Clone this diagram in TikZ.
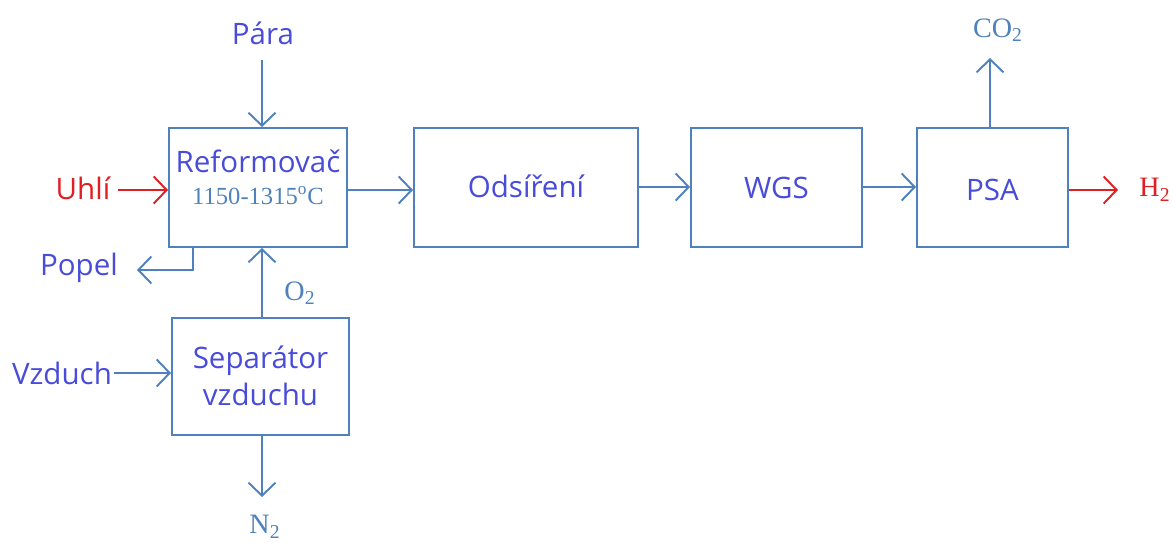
\documentclass[tikz,border=0pt]{standalone}
\usepackage{fontspec}
\setmainfont{Open Sans}
\newfontfamily\serif{Liberation Serif}
\usetikzlibrary{arrows.meta}
\definecolor{lineblue}{RGB}{79,129,189}
\definecolor{txtblue}{RGB}{72,76,216}
\definecolor{hotred}{RGB}{222,32,36}
\tikzset{
  unit/.style={draw=lineblue, line width=1.1pt, inner sep=0pt},
  txt/.style={text=txtblue, font=\fontsize{16.8}{21}\selectfont, inner sep=1pt},
  chem/.style={text=lineblue, font=\serif\fontsize{16}{19}\selectfont, inner sep=1pt},
  redtxt/.style={text=hotred, font=\fontsize{16.8}{21}\selectfont, inner sep=1pt},
  flow/.style={draw=lineblue, line width=1.1pt, -{Straight Barb[length=2.6mm,width=5.4mm,line width=1.1pt]}},
  hot/.style={flow, draw=hotred},
}
\begin{document}
\begin{tikzpicture}
      \useasboundingbox (0,0) rectangle (23.46,10.84);

      % process units
      \node[unit, minimum width=3.56cm, minimum height=2.38cm] (ref) at (5.16,7.09) {};
      \node[txt, align=center] (reftxt) at (5.16,7.3) {Reformovač\\[-3pt]{\serif\color{lineblue}\fontsize{14}{16}\selectfont 1150-1315\textsuperscript{o}C}};
      \node[unit, minimum width=4.48cm, minimum height=2.38cm] (ods) at (10.52,7.09) {};
      \node[txt] (odstxt) at (10.52,7.12) {Odsíření};
      \node[unit, minimum width=3.42cm, minimum height=2.38cm] (wgs) at (15.53,7.09) {};
      \node[txt] (wgstxt) at (15.53,7.08) {WGS};
      \node[unit, minimum width=3.02cm, minimum height=2.38cm] (psa) at (19.85,7.09) {};
      \node[txt] (psatxt) at (19.85,7.04) {PSA};
      \node[unit, minimum width=3.54cm, minimum height=2.34cm] (sep) at (5.21,3.31) {};
      \node[txt, align=center] (septxt) at (5.21,3.33) {Separátor\\vzduchu};

      % streams
      \node[txt] (para) at (5.26,10.18) {Pára};
      \node[redtxt] (uhli) at (1.66,7.08) {Uhlí};
      \node[txt] (popel) at (1.58,5.48) {Popel};
      \node[txt] (vzduch) at (1.24,3.38) {Vzduch};
      \node[chem] (o2) at (6.0,4.98) {O\textsubscript{2}};
      \node[chem] (n2) at (5.3,0.3) {N\textsubscript{2}};
      \node[chem] (co2) at (19.96,10.24) {CO\textsubscript{2}};
      \node[chem, text=hotred] (h2) at (23.1,7.04) {H\textsubscript{2}};
      \coordinate (coal) at (2.36,7.04);
      \coordinate (ash) at (3.86,5.44);
      \coordinate (ashend) at (2.74,5.44);
      \coordinate (n2end) at (5.24,0.9);
      \coordinate (co2end) at (19.8,9.68);
      \coordinate (h2end) at (22.36,7.04);

      \draw[flow] (5.24,9.64) -- (5.24,9.64 |- ref.north);
      \draw[hot] (coal) -- (ref.west |- coal);
      \draw[flow] (ash |- ref.south) -- (ash) -- (ashend);
      \draw[flow] (ref.east |- 0,7.04) -- (ods.west |- 0,7.04);
      \draw[flow] (ods.east |- 0,7.1) -- (wgs.west |- 0,7.1);
      \draw[flow] (wgs.east |- 0,7.1) -- (psa.west |- 0,7.1);
      \draw[hot] (psa.east |- h2end) -- (h2end);
      \draw[flow] (co2end |- psa.north) -- (co2end);
      \draw[flow] (vzduch.east) -- (sep.west |- vzduch.east);
      \draw[flow] (n2end |- sep.north) -- (n2end |- ref.south);
      \draw[flow] (n2end |- sep.south) -- (n2end);
    \end{tikzpicture}
\end{document}
